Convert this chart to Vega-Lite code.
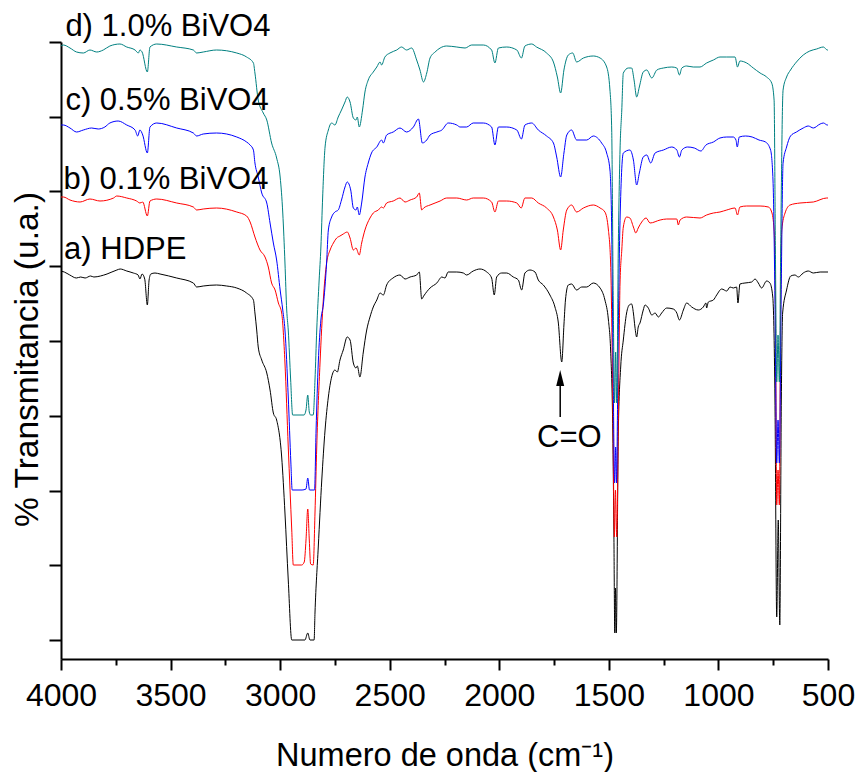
{
"$schema": "https://vega.github.io/schema/vega-lite/v6.json",
"width": 767, "height": 617,
"autosize": "none",
"padding": {"left": 61, "top": 42, "right": 31, "bottom": 113},
"config": {"view": {"stroke": null}, "font": "Liberation Sans", "background": "white"},
"datasets": {
"spectra": [
{"s":"a","w":4000,"t":369},{"s":"a","w":3985,"t":368},{"s":"a","w":3960,"t":365},{"s":"a","w":3930,"t":362},{"s":"a","w":3910,"t":363},{"s":"a","w":3890,"t":362},{"s":"a","w":3865,"t":364},{"s":"a","w":3850,"t":363},{"s":"a","w":3820,"t":364},{"s":"a","w":3790,"t":366},{"s":"a","w":3745,"t":370},{"s":"a","w":3730,"t":371},{"s":"a","w":3700,"t":369},{"s":"a","w":3670,"t":367},{"s":"a","w":3648,"t":365},{"s":"a","w":3640,"t":361},{"s":"a","w":3630,"t":366},{"s":"a","w":3618,"t":361},{"s":"a","w":3606,"t":335},{"s":"a","w":3598,"t":360},{"s":"a","w":3590,"t":366},{"s":"a","w":3571,"t":367},{"s":"a","w":3548,"t":366},{"s":"a","w":3472,"t":362},{"s":"a","w":3396,"t":357},{"s":"a","w":3381,"t":353},{"s":"a","w":3351,"t":354},{"s":"a","w":3290,"t":355},{"s":"a","w":3244,"t":354},{"s":"a","w":3198,"t":352},{"s":"a","w":3153,"t":347},{"s":"a","w":3122,"t":340},{"s":"a","w":3115,"t":327},{"s":"a","w":3107,"t":310},{"s":"a","w":3100,"t":293},{"s":"a","w":3084,"t":280},{"s":"a","w":3061,"t":267},{"s":"a","w":3046,"t":250},{"s":"a","w":3031,"t":227},{"s":"a","w":3016,"t":220},{"s":"a","w":2993,"t":183},{"s":"a","w":2978,"t":127},{"s":"a","w":2963,"t":60},{"s":"a","w":2947,"t":0},{"s":"a","w":2887,"t":0},{"s":"a","w":2874,"t":7},{"s":"a","w":2864,"t":0},{"s":"a","w":2845,"t":0},{"s":"a","w":2841,"t":27},{"s":"a","w":2826,"t":93},{"s":"a","w":2810,"t":160},{"s":"a","w":2795,"t":210},{"s":"a","w":2780,"t":243},{"s":"a","w":2765,"t":263},{"s":"a","w":2750,"t":270},{"s":"a","w":2739,"t":268},{"s":"a","w":2727,"t":280},{"s":"a","w":2712,"t":290},{"s":"a","w":2694,"t":303},{"s":"a","w":2681,"t":300},{"s":"a","w":2666,"t":277},{"s":"a","w":2654,"t":272},{"s":"a","w":2648,"t":274},{"s":"a","w":2636,"t":263},{"s":"a","w":2621,"t":287},{"s":"a","w":2605,"t":310},{"s":"a","w":2590,"t":323},{"s":"a","w":2575,"t":333},{"s":"a","w":2559,"t":340},{"s":"a","w":2544,"t":347},{"s":"a","w":2529,"t":345},{"s":"a","w":2514,"t":355},{"s":"a","w":2485,"t":362},{"s":"a","w":2453,"t":365},{"s":"a","w":2430,"t":361},{"s":"a","w":2407,"t":363},{"s":"a","w":2377,"t":365},{"s":"a","w":2365,"t":368},{"s":"a","w":2354,"t":341},{"s":"a","w":2345,"t":344},{"s":"a","w":2316,"t":352},{"s":"a","w":2285,"t":357},{"s":"a","w":2262,"t":363},{"s":"a","w":2248,"t":362},{"s":"a","w":2233,"t":368},{"s":"a","w":2194,"t":368},{"s":"a","w":2164,"t":367},{"s":"a","w":2149,"t":365},{"s":"a","w":2119,"t":369},{"s":"a","w":2088,"t":371},{"s":"a","w":2057,"t":368},{"s":"a","w":2035,"t":362},{"s":"a","w":2023,"t":345},{"s":"a","w":2012,"t":363},{"s":"a","w":1989,"t":367},{"s":"a","w":1966,"t":367},{"s":"a","w":1936,"t":363},{"s":"a","w":1913,"t":360},{"s":"a","w":1898,"t":350},{"s":"a","w":1883,"t":367},{"s":"a","w":1860,"t":370},{"s":"a","w":1837,"t":368},{"s":"a","w":1822,"t":360},{"s":"a","w":1799,"t":355},{"s":"a","w":1769,"t":345},{"s":"a","w":1746,"t":333},{"s":"a","w":1731,"t":318},{"s":"a","w":1715,"t":278},{"s":"a","w":1705,"t":315},{"s":"a","w":1698,"t":340},{"s":"a","w":1685,"t":355},{"s":"a","w":1670,"t":356},{"s":"a","w":1647,"t":350},{"s":"a","w":1624,"t":353},{"s":"a","w":1601,"t":353},{"s":"a","w":1571,"t":357},{"s":"a","w":1540,"t":352},{"s":"a","w":1518,"t":340},{"s":"a","w":1502,"t":320},{"s":"a","w":1492,"t":290},{"s":"a","w":1482,"t":207},{"s":"a","w":1477,"t":107},{"s":"a","w":1473,"t":7},{"s":"a","w":1470,"t":52},{"s":"a","w":1466,"t":7},{"s":"a","w":1457,"t":207},{"s":"a","w":1446,"t":273},{"s":"a","w":1434,"t":300},{"s":"a","w":1419,"t":327},{"s":"a","w":1407,"t":335},{"s":"a","w":1396,"t":336},{"s":"a","w":1388,"t":327},{"s":"a","w":1381,"t":313},{"s":"a","w":1373,"t":303},{"s":"a","w":1366,"t":313},{"s":"a","w":1358,"t":317},{"s":"a","w":1343,"t":330},{"s":"a","w":1335,"t":335},{"s":"a","w":1320,"t":332},{"s":"a","w":1304,"t":325},{"s":"a","w":1289,"t":327},{"s":"a","w":1274,"t":323},{"s":"a","w":1259,"t":327},{"s":"a","w":1236,"t":332},{"s":"a","w":1206,"t":331},{"s":"a","w":1190,"t":327},{"s":"a","w":1178,"t":320},{"s":"a","w":1160,"t":330},{"s":"a","w":1145,"t":337},{"s":"a","w":1122,"t":333},{"s":"a","w":1092,"t":330},{"s":"a","w":1069,"t":333},{"s":"a","w":1057,"t":337},{"s":"a","w":1054,"t":332},{"s":"a","w":1046,"t":338},{"s":"a","w":1023,"t":340},{"s":"a","w":1008,"t":345},{"s":"a","w":985,"t":351},{"s":"a","w":962,"t":349},{"s":"a","w":947,"t":353},{"s":"a","w":932,"t":352},{"s":"a","w":917,"t":353},{"s":"a","w":911,"t":337},{"s":"a","w":902,"t":356},{"s":"a","w":879,"t":357},{"s":"a","w":848,"t":358},{"s":"a","w":833,"t":361},{"s":"a","w":818,"t":357},{"s":"a","w":803,"t":352},{"s":"a","w":780,"t":359},{"s":"a","w":765,"t":357},{"s":"a","w":752,"t":343},{"s":"a","w":742,"t":240},{"s":"a","w":734,"t":23},{"s":"a","w":727,"t":120},{"s":"a","w":720,"t":15},{"s":"a","w":713,"t":240},{"s":"a","w":707,"t":327},{"s":"a","w":689,"t":350},{"s":"a","w":670,"t":364},{"s":"a","w":651,"t":365},{"s":"a","w":635,"t":363},{"s":"a","w":613,"t":367},{"s":"a","w":590,"t":369},{"s":"a","w":567,"t":367},{"s":"a","w":536,"t":368},{"s":"a","w":500,"t":368},

{"s":"b","w":4000,"t":443},{"s":"b","w":3989,"t":443},{"s":"b","w":3959,"t":440},{"s":"b","w":3913,"t":438},{"s":"b","w":3868,"t":441},{"s":"b","w":3822,"t":439},{"s":"b","w":3760,"t":442},{"s":"b","w":3746,"t":444},{"s":"b","w":3700,"t":442},{"s":"b","w":3655,"t":439},{"s":"b","w":3640,"t":437},{"s":"b","w":3627,"t":438},{"s":"b","w":3606,"t":424},{"s":"b","w":3594,"t":439},{"s":"b","w":3563,"t":441},{"s":"b","w":3472,"t":437},{"s":"b","w":3396,"t":433},{"s":"b","w":3381,"t":430},{"s":"b","w":3351,"t":431},{"s":"b","w":3290,"t":432},{"s":"b","w":3198,"t":428},{"s":"b","w":3153,"t":424},{"s":"b","w":3137,"t":418},{"s":"b","w":3115,"t":403},{"s":"b","w":3092,"t":390},{"s":"b","w":3069,"t":383},{"s":"b","w":3054,"t":373},{"s":"b","w":3039,"t":357},{"s":"b","w":3023,"t":350},{"s":"b","w":3008,"t":337},{"s":"b","w":2993,"t":327},{"s":"b","w":2978,"t":277},{"s":"b","w":2963,"t":193},{"s":"b","w":2947,"t":110},{"s":"b","w":2940,"t":75},{"s":"b","w":2902,"t":75},{"s":"b","w":2890,"t":78},{"s":"b","w":2882,"t":100},{"s":"b","w":2874,"t":131},{"s":"b","w":2867,"t":100},{"s":"b","w":2861,"t":76},{"s":"b","w":2849,"t":75},{"s":"b","w":2841,"t":127},{"s":"b","w":2833,"t":193},{"s":"b","w":2818,"t":277},{"s":"b","w":2803,"t":340},{"s":"b","w":2788,"t":377},{"s":"b","w":2772,"t":390},{"s":"b","w":2757,"t":397},{"s":"b","w":2742,"t":402},{"s":"b","w":2727,"t":404},{"s":"b","w":2712,"t":406},{"s":"b","w":2694,"t":408},{"s":"b","w":2681,"t":402},{"s":"b","w":2666,"t":390},{"s":"b","w":2654,"t":392},{"s":"b","w":2639,"t":385},{"s":"b","w":2628,"t":397},{"s":"b","w":2613,"t":410},{"s":"b","w":2590,"t":422},{"s":"b","w":2575,"t":427},{"s":"b","w":2552,"t":430},{"s":"b","w":2537,"t":433},{"s":"b","w":2529,"t":432},{"s":"b","w":2514,"t":437},{"s":"b","w":2484,"t":439},{"s":"b","w":2453,"t":442},{"s":"b","w":2430,"t":438},{"s":"b","w":2407,"t":440},{"s":"b","w":2377,"t":443},{"s":"b","w":2365,"t":447},{"s":"b","w":2354,"t":430},{"s":"b","w":2345,"t":432},{"s":"b","w":2316,"t":435},{"s":"b","w":2293,"t":437},{"s":"b","w":2270,"t":439},{"s":"b","w":2240,"t":442},{"s":"b","w":2194,"t":442},{"s":"b","w":2149,"t":440},{"s":"b","w":2119,"t":442},{"s":"b","w":2073,"t":442},{"s":"b","w":2035,"t":438},{"s":"b","w":2020,"t":428},{"s":"b","w":2004,"t":439},{"s":"b","w":1966,"t":439},{"s":"b","w":1920,"t":437},{"s":"b","w":1900,"t":432},{"s":"b","w":1883,"t":442},{"s":"b","w":1852,"t":442},{"s":"b","w":1822,"t":437},{"s":"b","w":1784,"t":432},{"s":"b","w":1753,"t":423},{"s":"b","w":1735,"t":410},{"s":"b","w":1720,"t":390},{"s":"b","w":1708,"t":410},{"s":"b","w":1692,"t":430},{"s":"b","w":1670,"t":435},{"s":"b","w":1647,"t":428},{"s":"b","w":1616,"t":432},{"s":"b","w":1571,"t":435},{"s":"b","w":1540,"t":432},{"s":"b","w":1518,"t":428},{"s":"b","w":1502,"t":410},{"s":"b","w":1492,"t":377},{"s":"b","w":1482,"t":240},{"s":"b","w":1475,"t":103},{"s":"b","w":1470,"t":150},{"s":"b","w":1464,"t":103},{"s":"b","w":1455,"t":260},{"s":"b","w":1449,"t":357},{"s":"b","w":1441,"t":390},{"s":"b","w":1434,"t":413},{"s":"b","w":1419,"t":423},{"s":"b","w":1404,"t":422},{"s":"b","w":1388,"t":413},{"s":"b","w":1377,"t":407},{"s":"b","w":1366,"t":412},{"s":"b","w":1350,"t":418},{"s":"b","w":1330,"t":422},{"s":"b","w":1312,"t":417},{"s":"b","w":1266,"t":420},{"s":"b","w":1236,"t":421},{"s":"b","w":1190,"t":421},{"s":"b","w":1183,"t":415},{"s":"b","w":1175,"t":420},{"s":"b","w":1145,"t":423},{"s":"b","w":1084,"t":422},{"s":"b","w":1054,"t":425},{"s":"b","w":1023,"t":427},{"s":"b","w":993,"t":428},{"s":"b","w":962,"t":430},{"s":"b","w":924,"t":432},{"s":"b","w":913,"t":425},{"s":"b","w":902,"t":433},{"s":"b","w":871,"t":434},{"s":"b","w":810,"t":434},{"s":"b","w":772,"t":433},{"s":"b","w":757,"t":428},{"s":"b","w":746,"t":410},{"s":"b","w":740,"t":340},{"s":"b","w":734,"t":135},{"s":"b","w":728,"t":170},{"s":"b","w":722,"t":135},{"s":"b","w":716,"t":340},{"s":"b","w":711,"t":410},{"s":"b","w":696,"t":427},{"s":"b","w":673,"t":435},{"s":"b","w":628,"t":437},{"s":"b","w":567,"t":438},{"s":"b","w":506,"t":442},{"s":"b","w":500,"t":442},

{"s":"c","w":4000,"t":515},{"s":"c","w":3989,"t":515},{"s":"c","w":3959,"t":512},{"s":"c","w":3929,"t":508},{"s":"c","w":3898,"t":510},{"s":"c","w":3860,"t":512},{"s":"c","w":3830,"t":511},{"s":"c","w":3800,"t":513},{"s":"c","w":3777,"t":517},{"s":"c","w":3739,"t":519},{"s":"c","w":3700,"t":515},{"s":"c","w":3662,"t":510},{"s":"c","w":3650,"t":504},{"s":"c","w":3640,"t":510},{"s":"c","w":3627,"t":505},{"s":"c","w":3606,"t":487},{"s":"c","w":3594,"t":513},{"s":"c","w":3563,"t":517},{"s":"c","w":3472,"t":512},{"s":"c","w":3396,"t":507},{"s":"c","w":3381,"t":504},{"s":"c","w":3351,"t":506},{"s":"c","w":3290,"t":507},{"s":"c","w":3198,"t":503},{"s":"c","w":3153,"t":498},{"s":"c","w":3137,"t":495},{"s":"c","w":3122,"t":490},{"s":"c","w":3115,"t":477},{"s":"c","w":3100,"t":463},{"s":"c","w":3084,"t":447},{"s":"c","w":3061,"t":437},{"s":"c","w":3046,"t":417},{"s":"c","w":3031,"t":397},{"s":"c","w":3016,"t":380},{"s":"c","w":3000,"t":350},{"s":"c","w":2988,"t":330},{"s":"c","w":2978,"t":310},{"s":"c","w":2963,"t":243},{"s":"c","w":2951,"t":177},{"s":"c","w":2945,"t":150},{"s":"c","w":2900,"t":150},{"s":"c","w":2882,"t":151},{"s":"c","w":2874,"t":162},{"s":"c","w":2866,"t":150},{"s":"c","w":2843,"t":150},{"s":"c","w":2836,"t":210},{"s":"c","w":2826,"t":277},{"s":"c","w":2814,"t":320},{"s":"c","w":2803,"t":335},{"s":"c","w":2788,"t":377},{"s":"c","w":2780,"t":410},{"s":"c","w":2765,"t":423},{"s":"c","w":2750,"t":428},{"s":"c","w":2735,"t":430},{"s":"c","w":2720,"t":440},{"s":"c","w":2704,"t":453},{"s":"c","w":2694,"t":458},{"s":"c","w":2678,"t":450},{"s":"c","w":2666,"t":432},{"s":"c","w":2654,"t":430},{"s":"c","w":2648,"t":433},{"s":"c","w":2639,"t":425},{"s":"c","w":2628,"t":437},{"s":"c","w":2613,"t":463},{"s":"c","w":2598,"t":477},{"s":"c","w":2583,"t":487},{"s":"c","w":2559,"t":493},{"s":"c","w":2537,"t":500},{"s":"c","w":2529,"t":497},{"s":"c","w":2514,"t":505},{"s":"c","w":2484,"t":508},{"s":"c","w":2453,"t":512},{"s":"c","w":2423,"t":508},{"s":"c","w":2392,"t":513},{"s":"c","w":2369,"t":521},{"s":"c","w":2351,"t":497},{"s":"c","w":2331,"t":500},{"s":"c","w":2316,"t":505},{"s":"c","w":2285,"t":508},{"s":"c","w":2262,"t":510},{"s":"c","w":2233,"t":517},{"s":"c","w":2194,"t":515},{"s":"c","w":2179,"t":513},{"s":"c","w":2149,"t":513},{"s":"c","w":2119,"t":517},{"s":"c","w":2073,"t":517},{"s":"c","w":2035,"t":513},{"s":"c","w":2020,"t":495},{"s":"c","w":2004,"t":513},{"s":"c","w":1966,"t":513},{"s":"c","w":1920,"t":510},{"s":"c","w":1899,"t":501},{"s":"c","w":1883,"t":515},{"s":"c","w":1852,"t":517},{"s":"c","w":1822,"t":510},{"s":"c","w":1784,"t":504},{"s":"c","w":1753,"t":497},{"s":"c","w":1738,"t":483},{"s":"c","w":1720,"t":463},{"s":"c","w":1705,"t":487},{"s":"c","w":1692,"t":505},{"s":"c","w":1670,"t":510},{"s":"c","w":1647,"t":500},{"s":"c","w":1601,"t":500},{"s":"c","w":1571,"t":504},{"s":"c","w":1533,"t":497},{"s":"c","w":1510,"t":487},{"s":"c","w":1495,"t":470},{"s":"c","w":1487,"t":410},{"s":"c","w":1480,"t":260},{"s":"c","w":1474,"t":157},{"s":"c","w":1469,"t":193},{"s":"c","w":1465,"t":157},{"s":"c","w":1458,"t":290},{"s":"c","w":1450,"t":410},{"s":"c","w":1434,"t":487},{"s":"c","w":1404,"t":490},{"s":"c","w":1388,"t":480},{"s":"c","w":1373,"t":455},{"s":"c","w":1361,"t":467},{"s":"c","w":1343,"t":483},{"s":"c","w":1327,"t":485},{"s":"c","w":1309,"t":477},{"s":"c","w":1289,"t":487},{"s":"c","w":1251,"t":490},{"s":"c","w":1213,"t":493},{"s":"c","w":1190,"t":490},{"s":"c","w":1178,"t":483},{"s":"c","w":1167,"t":490},{"s":"c","w":1141,"t":493},{"s":"c","w":1110,"t":492},{"s":"c","w":1080,"t":489},{"s":"c","w":1057,"t":495},{"s":"c","w":1023,"t":498},{"s":"c","w":993,"t":502},{"s":"c","w":962,"t":503},{"s":"c","w":932,"t":503},{"s":"c","w":920,"t":500},{"s":"c","w":914,"t":493},{"s":"c","w":905,"t":503},{"s":"c","w":876,"t":504},{"s":"c","w":846,"t":503},{"s":"c","w":815,"t":500},{"s":"c","w":785,"t":498},{"s":"c","w":762,"t":490},{"s":"c","w":751,"t":460},{"s":"c","w":742,"t":340},{"s":"c","w":734,"t":177},{"s":"c","w":728,"t":220},{"s":"c","w":722,"t":177},{"s":"c","w":714,"t":340},{"s":"c","w":705,"t":477},{"s":"c","w":689,"t":493},{"s":"c","w":671,"t":504},{"s":"c","w":644,"t":508},{"s":"c","w":613,"t":512},{"s":"c","w":590,"t":514},{"s":"c","w":567,"t":512},{"s":"c","w":536,"t":516},{"s":"c","w":521,"t":517},{"s":"c","w":503,"t":515},{"s":"c","w":500,"t":515},

{"s":"d","w":4000,"t":594},{"s":"d","w":3989,"t":595},{"s":"d","w":3959,"t":592},{"s":"d","w":3929,"t":588},{"s":"d","w":3898,"t":587},{"s":"d","w":3868,"t":590},{"s":"d","w":3837,"t":588},{"s":"d","w":3807,"t":590},{"s":"d","w":3777,"t":594},{"s":"d","w":3731,"t":596},{"s":"d","w":3700,"t":593},{"s":"d","w":3662,"t":590},{"s":"d","w":3647,"t":587},{"s":"d","w":3640,"t":590},{"s":"d","w":3630,"t":588},{"s":"d","w":3606,"t":568},{"s":"d","w":3594,"t":593},{"s":"d","w":3563,"t":596},{"s":"d","w":3472,"t":593},{"s":"d","w":3396,"t":590},{"s":"d","w":3381,"t":587},{"s":"d","w":3351,"t":588},{"s":"d","w":3290,"t":590},{"s":"d","w":3198,"t":587},{"s":"d","w":3153,"t":583},{"s":"d","w":3122,"t":577},{"s":"d","w":3115,"t":567},{"s":"d","w":3100,"t":540},{"s":"d","w":3077,"t":527},{"s":"d","w":3061,"t":520},{"s":"d","w":3039,"t":497},{"s":"d","w":3016,"t":482},{"s":"d","w":3000,"t":463},{"s":"d","w":2988,"t":427},{"s":"d","w":2978,"t":377},{"s":"d","w":2970,"t":330},{"s":"d","w":2963,"t":310},{"s":"d","w":2952,"t":260},{"s":"d","w":2943,"t":225},{"s":"d","w":2891,"t":225},{"s":"d","w":2882,"t":230},{"s":"d","w":2874,"t":245},{"s":"d","w":2867,"t":228},{"s":"d","w":2861,"t":225},{"s":"d","w":2849,"t":225},{"s":"d","w":2841,"t":260},{"s":"d","w":2833,"t":310},{"s":"d","w":2822,"t":360},{"s":"d","w":2814,"t":393},{"s":"d","w":2806,"t":443},{"s":"d","w":2795,"t":493},{"s":"d","w":2780,"t":510},{"s":"d","w":2765,"t":517},{"s":"d","w":2750,"t":515},{"s":"d","w":2735,"t":523},{"s":"d","w":2720,"t":530},{"s":"d","w":2704,"t":538},{"s":"d","w":2694,"t":543},{"s":"d","w":2681,"t":538},{"s":"d","w":2666,"t":522},{"s":"d","w":2654,"t":520},{"s":"d","w":2648,"t":523},{"s":"d","w":2639,"t":513},{"s":"d","w":2624,"t":530},{"s":"d","w":2613,"t":548},{"s":"d","w":2598,"t":560},{"s":"d","w":2575,"t":568},{"s":"d","w":2559,"t":573},{"s":"d","w":2544,"t":578},{"s":"d","w":2537,"t":575},{"s":"d","w":2522,"t":583},{"s":"d","w":2499,"t":587},{"s":"d","w":2468,"t":590},{"s":"d","w":2446,"t":593},{"s":"d","w":2423,"t":590},{"s":"d","w":2400,"t":592},{"s":"d","w":2377,"t":580},{"s":"d","w":2362,"t":570},{"s":"d","w":2346,"t":558},{"s":"d","w":2331,"t":567},{"s":"d","w":2316,"t":582},{"s":"d","w":2293,"t":588},{"s":"d","w":2270,"t":592},{"s":"d","w":2240,"t":594},{"s":"d","w":2194,"t":593},{"s":"d","w":2156,"t":592},{"s":"d","w":2126,"t":595},{"s":"d","w":2073,"t":595},{"s":"d","w":2035,"t":590},{"s":"d","w":2020,"t":577},{"s":"d","w":2004,"t":592},{"s":"d","w":1966,"t":593},{"s":"d","w":1920,"t":590},{"s":"d","w":1899,"t":582},{"s":"d","w":1883,"t":594},{"s":"d","w":1852,"t":596},{"s":"d","w":1830,"t":593},{"s":"d","w":1784,"t":587},{"s":"d","w":1753,"t":578},{"s":"d","w":1735,"t":563},{"s":"d","w":1720,"t":547},{"s":"d","w":1705,"t":570},{"s":"d","w":1685,"t":585},{"s":"d","w":1665,"t":587},{"s":"d","w":1647,"t":578},{"s":"d","w":1616,"t":582},{"s":"d","w":1571,"t":584},{"s":"d","w":1540,"t":582},{"s":"d","w":1510,"t":573},{"s":"d","w":1495,"t":550},{"s":"d","w":1487,"t":510},{"s":"d","w":1480,"t":340},{"s":"d","w":1474,"t":237},{"s":"d","w":1469,"t":288},{"s":"d","w":1464,"t":237},{"s":"d","w":1457,"t":390},{"s":"d","w":1449,"t":490},{"s":"d","w":1441,"t":530},{"s":"d","w":1434,"t":567},{"s":"d","w":1411,"t":572},{"s":"d","w":1396,"t":572},{"s":"d","w":1385,"t":560},{"s":"d","w":1373,"t":543},{"s":"d","w":1361,"t":553},{"s":"d","w":1343,"t":568},{"s":"d","w":1327,"t":570},{"s":"d","w":1304,"t":562},{"s":"d","w":1281,"t":570},{"s":"d","w":1251,"t":572},{"s":"d","w":1213,"t":573},{"s":"d","w":1190,"t":572},{"s":"d","w":1178,"t":565},{"s":"d","w":1167,"t":572},{"s":"d","w":1145,"t":574},{"s":"d","w":1115,"t":573},{"s":"d","w":1084,"t":573},{"s":"d","w":1054,"t":577},{"s":"d","w":1023,"t":580},{"s":"d","w":993,"t":583},{"s":"d","w":962,"t":583},{"s":"d","w":924,"t":583},{"s":"d","w":913,"t":573},{"s":"d","w":902,"t":579},{"s":"d","w":871,"t":577},{"s":"d","w":841,"t":572},{"s":"d","w":810,"t":567},{"s":"d","w":780,"t":563},{"s":"d","w":757,"t":557},{"s":"d","w":746,"t":540},{"s":"d","w":740,"t":390},{"s":"d","w":734,"t":258},{"s":"d","w":728,"t":305},{"s":"d","w":722,"t":258},{"s":"d","w":716,"t":390},{"s":"d","w":705,"t":550},{"s":"d","w":689,"t":563},{"s":"d","w":671,"t":570},{"s":"d","w":644,"t":578},{"s":"d","w":613,"t":585},{"s":"d","w":583,"t":589},{"s":"d","w":552,"t":591},{"s":"d","w":521,"t":593},{"s":"d","w":503,"t":590},{"s":"d","w":500,"t":590}
],
"labels": [
{"w":3980,"t":604,"lab":"d) 1.0% BiVO4"},
{"w":3980,"t":530,"lab":"c) 0.5% BiVO4"},
{"w":3989,"t":451,"lab":"b) 0.1% BiVO4"},
{"w":3986,"t":381,"lab":"a) HDPE"}
],
"note": [{"w":1680,"t":193,"lab":"C=O"}],
"arrow": [{"w":1722,"t":223,"t2":255,"th":262}]
},
"layer": [
{
"data": {"name": "spectra"},
"mark": {"type": "line", "strokeWidth": 1, "clip": true, "interpolate": "monotone"},
"encoding": {
"x": {"field": "w", "type": "quantitative",
 "scale": {"domain": [4000, 500], "nice": false, "zero": false},
 "axis": {"title": "Numero de onda (cm⁻¹)", "values": [4000,3750,3500,3250,3000,2750,2500,2250,2000,1750,1500,1250,1000,750,500],
  "format": "d", "labelExpr": "datum.value % 500 === 0 ? datum.label : ''", "labelOverlap": false, "labelFlush": false,
  "grid": false, "domainColor": "black", "domainWidth": 2, "tickColor": "black", "tickWidth": 2,
  "tickSize": {"condition": {"test": "datum.value % 500 === 0", "value": 11}, "value": 6},
  "labelFontSize": 32, "labelColor": "black", "labelBaseline": "alphabetic", "labelPadding": 35,
  "titleFontSize": 32.5, "titleFontWeight": "normal", "titleColor": "black", "titleX": 383.5, "titleY": 106, "titleBaseline": "alphabetic", "titleAlign": "center"}},
"y": {"field": "t", "type": "quantitative",
 "scale": {"domain": [-19, 598], "nice": false, "zero": false},
 "axis": {"title": "% Transmitancia (u.a.)", "values": [0,37.375,74.75,112.125,149.5,186.875,224.25,261.625,299,336.375,373.75,411.125,448.5,485.875,523.25,560.625,598],
  "labels": false, "grid": false, "domainColor": "black", "domainWidth": 2, "tickColor": "black", "tickWidth": 2,
  "tickSize": {"condition": {"test": "abs(datum.value / 74.75 - round(datum.value / 74.75)) < 0.01", "value": 12}, "value": 7},
  "titleFontSize": 33.5, "titleFontWeight": "normal", "titleColor": "black", "titleAngle": 270, "titleX": -24, "titleY": 317, "titleBaseline": "alphabetic", "titleAlign": "center"}},
"color": {"field": "s", "type": "nominal", "scale": {"domain": ["a","b","c","d"], "range": ["#000000","#ff0000","#0000ff","#008080"]}, "legend": null}
}
},
{
"data": {"name": "labels"},
"mark": {"type": "text", "align": "left", "baseline": "alphabetic", "fontSize": 31, "color": "black"},
"encoding": {"x": {"field": "w", "type": "quantitative"}, "y": {"field": "t", "type": "quantitative"}, "text": {"field": "lab"}}
},
{
"data": {"name": "note"},
"mark": {"type": "text", "align": "center", "baseline": "alphabetic", "fontSize": 31, "color": "black"},
"encoding": {"x": {"field": "w", "type": "quantitative"}, "y": {"field": "t", "type": "quantitative"}, "text": {"field": "lab"}}
},
{
"data": {"name": "arrow"},
"mark": {"type": "rule", "color": "black", "strokeWidth": 1.5},
"encoding": {"x": {"field": "w", "type": "quantitative"}, "y": {"field": "t", "type": "quantitative"}, "y2": {"field": "t2"}}
},
{
"data": {"name": "arrow"},
"mark": {"type": "point", "shape": "M0,-1L0.5,1L-0.5,1Z", "filled": true, "color": "black", "opacity": 1, "size": 256},
"encoding": {"x": {"field": "w", "type": "quantitative"}, "y": {"field": "th", "type": "quantitative"}}
}
]
}
